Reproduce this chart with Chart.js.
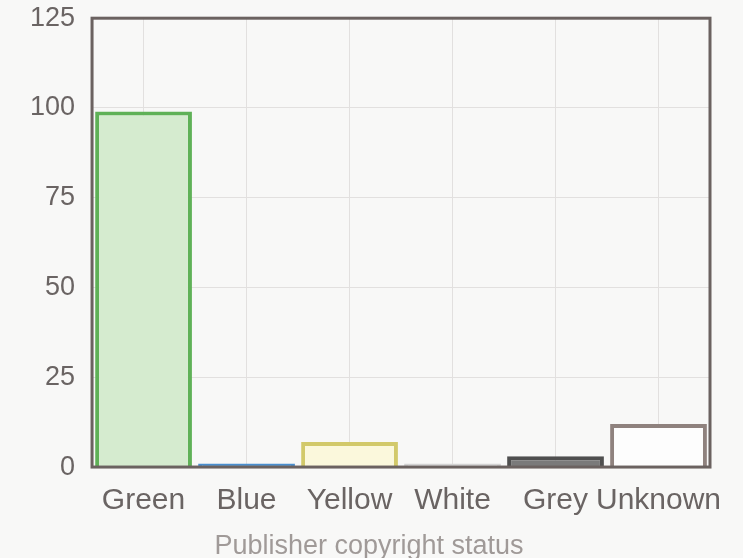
<!DOCTYPE html>
<html>
<head>
<meta charset="utf-8">
<script src="https://cdn.jsdelivr.net/npm/chart.js@4/dist/chart.umd.min.js"></script>
<style>
  html, body { margin: 0; padding: 0; background: #f8f8f7; }
  #wrap { width: 743px; height: 558px; position: relative; }
</style>
</head>
<body>
<div id="wrap"><canvas id="chart"></canvas></div>
<script>
// ─── Data ────────────────────────────────────────────────────
const CATEGORIES = ['Green', 'Blue', 'Yellow', 'White', 'Grey', 'Unknown'];
const COUNTS     = [99, 1, 7, 1, 3, 12];
const Y_TICKS    = [0, 25, 50, 75, 100, 125];

// ─── Bar colours (one per category) ──────────────────────────
const BORDERS = ['#5fb157', '#4a8fd0', '#d2c96a', '#d3d3d3', '#4f4f4f', '#8f827e'];
const FILLS   = ['#d5ebcf', '#5a9bd5', '#fbf8dc', '#e0e0e0', '#7a7a7a', '#fdfdfd'];

const FONT = "'Liberation Sans', Arial, sans-serif";

// frame round the plot area (top + right edges too)
const frame = {
  id: 'frame',
  afterDraw(chart) {
    const { ctx, chartArea: a } = chart;
    ctx.save();
    ctx.strokeStyle = '#6b6260';
    ctx.lineWidth = 3;
    ctx.strokeRect(a.left, a.top, a.right - a.left, a.bottom - a.top);
    ctx.restore();
  },
};

new Chart(document.getElementById('chart'), {
  type: 'bar',
  data: {
    labels: CATEGORIES,
    datasets: [{
      data:               COUNTS,
      backgroundColor:    FILLS,
      borderColor:        BORDERS,
      borderWidth:        4,
      barPercentage:      1,
      categoryPercentage: 0.94,
    }],
  },
  options: {
    responsive:          true,
    maintainAspectRatio: false,
    animation:           false,
    layout: { padding: { top: 0, right: 33, left: 28, bottom: 0 } },
    plugins: {
      legend:  { display: false },
      tooltip: { enabled: false },
      title: {
        display:  true,
        position: 'bottom',
        text:     'Publisher copyright status',
        color:    '#a09a98',
        font:     { family: FONT, size: 27, weight: 'normal', lineHeight: 0.85 },
        padding:  { top: 0, bottom: 0 },
      },
    },
    scales: {
      x: {
        grid:   { offset: false, color: '#e2e0df', drawTicks: false },
        border: { display: false },
        ticks:  { color: '#6a6463', font: { family: FONT, size: 30, lineHeight: 1.0 }, padding: 19, maxRotation: 0, autoSkip: false },
      },
      y: {
        min: 0,
        max: Y_TICKS[Y_TICKS.length - 1],
        afterBuildTicks: axis => { axis.ticks = Y_TICKS.map(v => ({ value: v })); },
        grid:   { color: '#e2e0df', drawTicks: true, tickLength: 15, tickColor: 'rgba(0,0,0,0)' },
        border: { display: false },
        ticks:  { color: '#6a6463', font: { family: FONT, size: 27 }, padding: 2 },
      },
    },
  },
  plugins: [frame],
});
</script>
</body>
</html>
